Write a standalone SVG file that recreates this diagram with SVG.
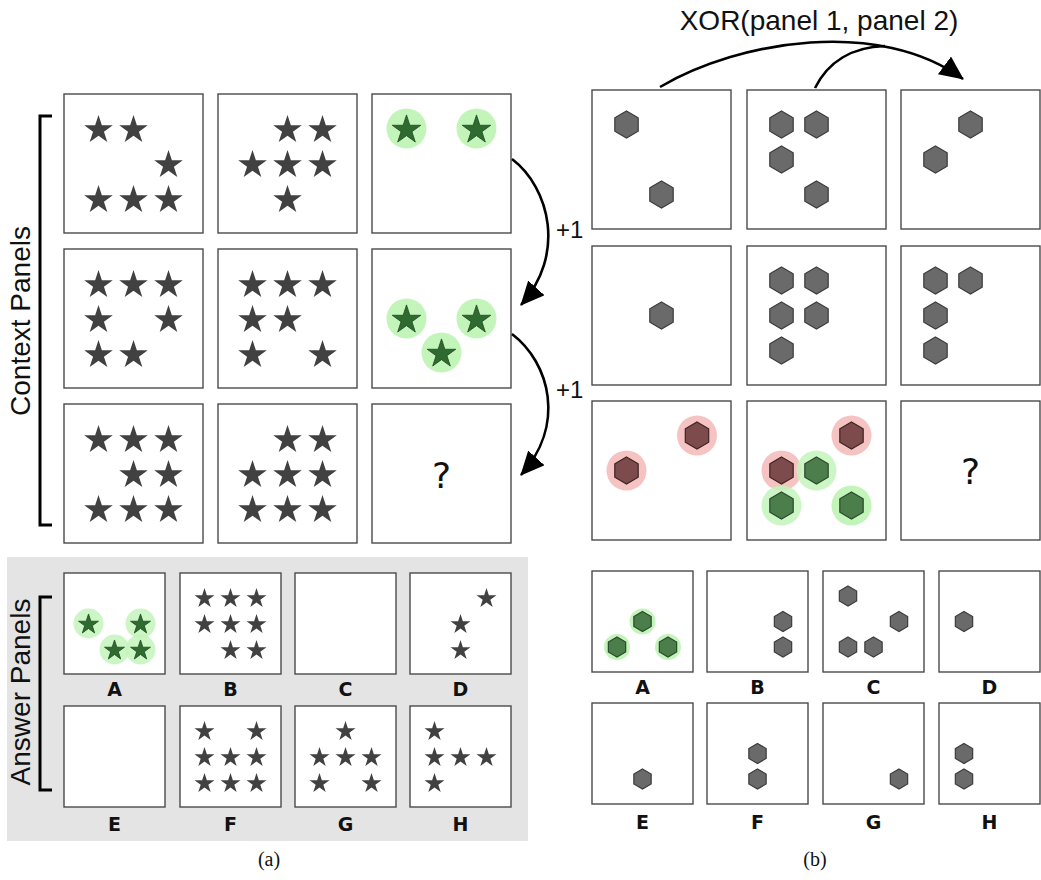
<svg xmlns="http://www.w3.org/2000/svg" xmlns:xlink="http://www.w3.org/1999/xlink" width="1041" height="880" viewBox="0 0 1041 880">
<style>
.panel{fill:#fff;stroke:#4a4a4a;stroke-width:1.4}
.st{fill:#414141}
.gs{fill:#2f6a30;stroke:#1f4a20;stroke-width:0.8}
.gc{fill:#c3f5bb}
.rc{fill:#f6c3c3}
.hx{fill:#6a6a6a;stroke:#3c3c3c;stroke-width:1.2}
.rh{fill:#7d4b4b;stroke:#3e2222;stroke-width:1.2}
.gh{fill:#4b7e4b;stroke:#2a4a2a;stroke-width:1.2}
.lbl{font-family:"DejaVu Sans",sans-serif;font-weight:bold;font-size:19px;text-anchor:middle;fill:#111}
.big{font-family:"Liberation Sans",Arial,sans-serif;font-size:28px;fill:#111;text-anchor:middle}
.plus{font-family:"Liberation Sans",Arial,sans-serif;font-size:24px;fill:#111}
.q{font-family:"DejaVu Sans",sans-serif;font-size:36px;text-anchor:middle;fill:#111}
.cap{font-family:"Liberation Serif","Times New Roman",serif;font-size:20px;text-anchor:middle;fill:#111}
.conn{fill:none;stroke:#000;stroke-width:2.6}
.brk{fill:none;stroke:#000;stroke-width:3}
</style>
<defs>
<path id="s" d="M0,-13.6 L3.37,-3.24 L14.27,-3.24 L5.45,3.17 L8.82,13.54 L0,7.13 L-8.82,13.54 L-5.45,3.17 L-14.27,-3.24 L-3.37,-3.24 Z"/>
<path id="ss" d="M0,-9.52 L2.36,-2.27 L9.99,-2.27 L3.82,2.22 L6.17,9.48 L0,4.99 L-6.17,9.48 L-3.82,2.22 L-9.99,-2.27 L-2.36,-2.27 Z"/>
<path id="h" d="M0,-13.5 L11.69,-6.75 L11.69,6.75 L0,13.5 L-11.69,6.75 L-11.69,-6.75 Z"/>
<path id="hs" d="M0,-10 L8.66,-5 L8.66,5 L0,10 L-8.66,5 L-8.66,-5 Z"/>
<marker id="arr" markerUnits="userSpaceOnUse" markerWidth="26" markerHeight="24" refX="23" refY="11" orient="auto" viewBox="0 0 26 24">
<path d="M0,0 L24,11 L0,22 Z" fill="#000"/>
</marker>
</defs>

<!-- answer background -->
<rect id="answer-bg" x="7" y="557" width="521" height="284" fill="#e4e4e4"/>

<!-- left side labels and brackets -->
<g id="context-label">
<path class="brk" d="M52,116 H40 V525 H52"/>
<text class="big" transform="translate(30,321) rotate(-90)">Context Panels</text>
</g>
<g id="answer-label">
<path class="brk" d="M52,597 H40 V790 H52"/>
<text class="big" transform="translate(30,692) rotate(-90)">Answer Panels</text>
</g>

<!-- LEFT context panels -->
<g id="a-r1c1"><rect class="panel" x="64" y="94" width="139" height="139"/>
<use href="#s" class="st" x="98.5" y="128.5"/><use href="#s" class="st" x="133.5" y="128.5"/>
<use href="#s" class="st" x="168.5" y="163.5"/>
<use href="#s" class="st" x="98.5" y="198.5"/><use href="#s" class="st" x="133.5" y="198.5"/><use href="#s" class="st" x="168.5" y="198.5"/></g>
<g id="a-r1c2"><rect class="panel" x="218" y="94" width="139" height="139"/>
<use href="#s" class="st" x="287.5" y="128.5"/><use href="#s" class="st" x="322.5" y="128.5"/>
<use href="#s" class="st" x="252.5" y="163.5"/><use href="#s" class="st" x="287.5" y="163.5"/><use href="#s" class="st" x="322.5" y="163.5"/>
<use href="#s" class="st" x="287.5" y="198.5"/></g>
<g id="a-r1c3"><rect class="panel" x="372" y="94" width="139" height="139"/>
<circle class="gc" cx="406.5" cy="128.5" r="20"/><circle class="gc" cx="476.5" cy="128.5" r="20"/>
<use href="#s" class="gs" x="406.5" y="128.5"/><use href="#s" class="gs" x="476.5" y="128.5"/></g>

<g id="a-r2c1"><rect class="panel" x="64" y="249" width="139" height="139"/>
<use href="#s" class="st" x="98.5" y="283.5"/><use href="#s" class="st" x="133.5" y="283.5"/><use href="#s" class="st" x="168.5" y="283.5"/>
<use href="#s" class="st" x="98.5" y="318.5"/><use href="#s" class="st" x="168.5" y="318.5"/>
<use href="#s" class="st" x="98.5" y="353.5"/><use href="#s" class="st" x="133.5" y="353.5"/></g>
<g id="a-r2c2"><rect class="panel" x="218" y="249" width="139" height="139"/>
<use href="#s" class="st" x="252.5" y="283.5"/><use href="#s" class="st" x="287.5" y="283.5"/><use href="#s" class="st" x="322.5" y="283.5"/>
<use href="#s" class="st" x="252.5" y="318.5"/><use href="#s" class="st" x="287.5" y="318.5"/>
<use href="#s" class="st" x="252.5" y="353.5"/><use href="#s" class="st" x="322.5" y="353.5"/></g>
<g id="a-r2c3"><rect class="panel" x="372" y="249" width="139" height="139"/>
<circle class="gc" cx="406.5" cy="318.5" r="20"/><circle class="gc" cx="476.5" cy="318.5" r="20"/><circle class="gc" cx="441.5" cy="352.5" r="20"/>
<use href="#s" class="gs" x="406.5" y="318.5"/><use href="#s" class="gs" x="476.5" y="318.5"/><use href="#s" class="gs" x="441.5" y="352.5"/></g>

<g id="a-r3c1"><rect class="panel" x="64" y="404" width="139" height="139"/>
<use href="#s" class="st" x="98.5" y="438.5"/><use href="#s" class="st" x="133.5" y="438.5"/><use href="#s" class="st" x="168.5" y="438.5"/>
<use href="#s" class="st" x="133.5" y="473.5"/><use href="#s" class="st" x="168.5" y="473.5"/>
<use href="#s" class="st" x="98.5" y="508.5"/><use href="#s" class="st" x="133.5" y="508.5"/><use href="#s" class="st" x="168.5" y="508.5"/></g>
<g id="a-r3c2"><rect class="panel" x="218" y="404" width="139" height="139"/>
<use href="#s" class="st" x="287.5" y="438.5"/><use href="#s" class="st" x="322.5" y="438.5"/>
<use href="#s" class="st" x="252.5" y="473.5"/><use href="#s" class="st" x="287.5" y="473.5"/><use href="#s" class="st" x="322.5" y="473.5"/>
<use href="#s" class="st" x="252.5" y="508.5"/><use href="#s" class="st" x="287.5" y="508.5"/><use href="#s" class="st" x="322.5" y="508.5"/></g>
<g id="a-r3c3"><rect class="panel" x="372" y="404" width="139" height="139"/>
<text class="q" x="441.5" y="488">?</text></g>

<!-- LEFT answer panels -->
<g id="a-ansA"><rect class="panel" x="64" y="573" width="101" height="101"/>
<circle class="gc" cx="88.5" cy="623.5" r="15" opacity="0.85"/><circle class="gc" cx="140.5" cy="623.5" r="15" opacity="0.85"/><circle class="gc" cx="114.5" cy="649.5" r="15" opacity="0.85"/><circle class="gc" cx="140.5" cy="649.5" r="15" opacity="0.85"/>
<use href="#ss" class="gs" x="88.5" y="623.5"/><use href="#ss" class="gs" x="140.5" y="623.5"/><use href="#ss" class="gs" x="114.5" y="649.5"/><use href="#ss" class="gs" x="140.5" y="649.5"/>
<text class="lbl" x="114.5" y="696">A</text></g>
<g id="a-ansB"><rect class="panel" x="180" y="573" width="101" height="101"/>
<use href="#ss" class="st" x="204.5" y="597.5"/><use href="#ss" class="st" x="230.5" y="597.5"/><use href="#ss" class="st" x="256.5" y="597.5"/>
<use href="#ss" class="st" x="204.5" y="623.5"/><use href="#ss" class="st" x="230.5" y="623.5"/><use href="#ss" class="st" x="256.5" y="623.5"/>
<use href="#ss" class="st" x="230.5" y="649.5"/><use href="#ss" class="st" x="256.5" y="649.5"/>
<text class="lbl" x="230.5" y="696">B</text></g>
<g id="a-ansC"><rect class="panel" x="295" y="573" width="101" height="101"/>
<text class="lbl" x="345.5" y="696">C</text></g>
<g id="a-ansD"><rect class="panel" x="410" y="573" width="101" height="101"/>
<use href="#ss" class="st" x="486.5" y="597.5"/><use href="#ss" class="st" x="460.5" y="623.5"/><use href="#ss" class="st" x="460.5" y="649.5"/>
<text class="lbl" x="460.5" y="696">D</text></g>
<g id="a-ansE"><rect class="panel" x="64" y="706" width="101" height="101"/>
<text class="lbl" x="114.5" y="831">E</text></g>
<g id="a-ansF"><rect class="panel" x="180" y="706" width="101" height="101"/>
<use href="#ss" class="st" x="204.5" y="730.5"/><use href="#ss" class="st" x="256.5" y="730.5"/>
<use href="#ss" class="st" x="204.5" y="756.5"/><use href="#ss" class="st" x="230.5" y="756.5"/><use href="#ss" class="st" x="256.5" y="756.5"/>
<use href="#ss" class="st" x="204.5" y="782.5"/><use href="#ss" class="st" x="230.5" y="782.5"/><use href="#ss" class="st" x="256.5" y="782.5"/>
<text class="lbl" x="230.5" y="831">F</text></g>
<g id="a-ansG"><rect class="panel" x="295" y="706" width="101" height="101"/>
<use href="#ss" class="st" x="345.5" y="730.5"/>
<use href="#ss" class="st" x="319.5" y="756.5"/><use href="#ss" class="st" x="345.5" y="756.5"/><use href="#ss" class="st" x="371.5" y="756.5"/>
<use href="#ss" class="st" x="319.5" y="782.5"/><use href="#ss" class="st" x="371.5" y="782.5"/>
<text class="lbl" x="345.5" y="831">G</text></g>
<g id="a-ansH"><rect class="panel" x="410" y="706" width="101" height="101"/>
<use href="#ss" class="st" x="434.5" y="730.5"/>
<use href="#ss" class="st" x="434.5" y="756.5"/><use href="#ss" class="st" x="460.5" y="756.5"/><use href="#ss" class="st" x="486.5" y="756.5"/>
<use href="#ss" class="st" x="434.5" y="782.5"/>
<text class="lbl" x="460.5" y="831">H</text></g>

<!-- RIGHT context panels -->
<g id="b-r1c1"><rect class="panel" x="592" y="90" width="139" height="139"/>
<use href="#h" class="hx" x="626.5" y="124.5"/><use href="#h" class="hx" x="661.5" y="194.5"/></g>
<g id="b-r1c2"><rect class="panel" x="747" y="90" width="139" height="139"/>
<use href="#h" class="hx" x="781.5" y="124.5"/><use href="#h" class="hx" x="816.5" y="124.5"/>
<use href="#h" class="hx" x="781.5" y="159.5"/><use href="#h" class="hx" x="816.5" y="194.5"/></g>
<g id="b-r1c3"><rect class="panel" x="901" y="90" width="139" height="139"/>
<use href="#h" class="hx" x="970.5" y="124.5"/><use href="#h" class="hx" x="935.5" y="159.5"/></g>

<g id="b-r2c1"><rect class="panel" x="592" y="246" width="139" height="139"/>
<use href="#h" class="hx" x="661.5" y="315.5"/></g>
<g id="b-r2c2"><rect class="panel" x="747" y="246" width="139" height="139"/>
<use href="#h" class="hx" x="781.5" y="280.5"/><use href="#h" class="hx" x="816.5" y="280.5"/>
<use href="#h" class="hx" x="781.5" y="315.5"/><use href="#h" class="hx" x="816.5" y="315.5"/>
<use href="#h" class="hx" x="781.5" y="350.5"/></g>
<g id="b-r2c3"><rect class="panel" x="901" y="246" width="139" height="139"/>
<use href="#h" class="hx" x="935.5" y="280.5"/><use href="#h" class="hx" x="970.5" y="280.5"/>
<use href="#h" class="hx" x="935.5" y="315.5"/><use href="#h" class="hx" x="935.5" y="350.5"/></g>

<g id="b-r3c1"><rect class="panel" x="592" y="401" width="139" height="139"/>
<circle class="rc" cx="697" cy="435.5" r="20"/><circle class="rc" cx="626.5" cy="470.5" r="20"/>
<use href="#h" class="rh" x="697" y="435.5"/><use href="#h" class="rh" x="626.5" y="470.5"/></g>
<g id="b-r3c2"><rect class="panel" x="747" y="401" width="139" height="139"/>
<circle class="rc" cx="851.5" cy="435.5" r="20"/><circle class="rc" cx="781.5" cy="470.5" r="20"/>
<circle class="gc" cx="816.5" cy="470.5" r="20" opacity="0.85"/><circle class="gc" cx="781.5" cy="505.5" r="20" opacity="0.85"/><circle class="gc" cx="851.5" cy="505.5" r="20"/>
<use href="#h" class="rh" x="851.5" y="435.5"/><use href="#h" class="rh" x="781.5" y="470.5"/>
<use href="#h" class="gh" x="816.5" y="470.5"/><use href="#h" class="gh" x="781.5" y="505.5"/><use href="#h" class="gh" x="851.5" y="505.5"/></g>
<g id="b-r3c3"><rect class="panel" x="901" y="401" width="139" height="139"/>
<text class="q" x="970.5" y="484">?</text></g>

<!-- RIGHT answer panels -->
<g id="b-ansA"><rect class="panel" x="592" y="571" width="101" height="101"/>
<circle class="gc" cx="642.5" cy="621.5" r="13"/><circle class="gc" cx="617" cy="647" r="13"/><circle class="gc" cx="668" cy="647" r="13"/>
<use href="#hs" class="gh" x="642.5" y="621.5"/><use href="#hs" class="gh" x="617" y="647"/><use href="#hs" class="gh" x="668" y="647"/>
<text class="lbl" x="642.5" y="694">A</text></g>
<g id="b-ansB"><rect class="panel" x="707" y="571" width="101" height="101"/>
<use href="#hs" class="hx" x="783" y="621.5"/><use href="#hs" class="hx" x="783" y="647"/>
<text class="lbl" x="757.5" y="694">B</text></g>
<g id="b-ansC"><rect class="panel" x="823" y="571" width="101" height="101"/>
<use href="#hs" class="hx" x="848" y="596"/><use href="#hs" class="hx" x="899" y="621.5"/>
<use href="#hs" class="hx" x="848" y="647"/><use href="#hs" class="hx" x="873.5" y="647"/>
<text class="lbl" x="873.5" y="694">C</text></g>
<g id="b-ansD"><rect class="panel" x="939" y="571" width="101" height="101"/>
<use href="#hs" class="hx" x="964" y="621.5"/>
<text class="lbl" x="989.5" y="694">D</text></g>
<g id="b-ansE"><rect class="panel" x="592" y="703" width="101" height="101"/>
<use href="#hs" class="hx" x="642.5" y="779"/>
<text class="lbl" x="642.5" y="829">E</text></g>
<g id="b-ansF"><rect class="panel" x="707" y="703" width="101" height="101"/>
<use href="#hs" class="hx" x="757.5" y="753.5"/><use href="#hs" class="hx" x="757.5" y="779"/>
<text class="lbl" x="757.5" y="829">F</text></g>
<g id="b-ansG"><rect class="panel" x="823" y="703" width="101" height="101"/>
<use href="#hs" class="hx" x="899" y="779"/>
<text class="lbl" x="873.5" y="829">G</text></g>
<g id="b-ansH"><rect class="panel" x="939" y="703" width="101" height="101"/>
<use href="#hs" class="hx" x="964" y="753.5"/><use href="#hs" class="hx" x="964" y="779"/>
<text class="lbl" x="989.5" y="829">H</text></g>

<!-- connectors -->
<g id="connectors">
<path class="conn" d="M512,159 C550,188 566,255 521,305" marker-end="url(#arr)"/>
<path class="conn" d="M512,334 C550,363 566,425 521,475" marker-end="url(#arr)"/>
<path class="conn" d="M660,87 C740,40 880,18 963,79" marker-end="url(#arr)"/>
<path class="conn" d="M815,88 C828,62 852,47 885,46"/>
</g>
<g id="connector-labels">
<text class="plus" x="556" y="238">+1</text>
<text class="plus" x="556" y="398">+1</text>
<text class="big" x="819" y="30">XOR(panel 1, panel 2)</text>
</g>

<g id="captions">
<text class="cap" x="269" y="866">(a)</text>
<text class="cap" x="815" y="866">(b)</text>
</g>
</svg>
